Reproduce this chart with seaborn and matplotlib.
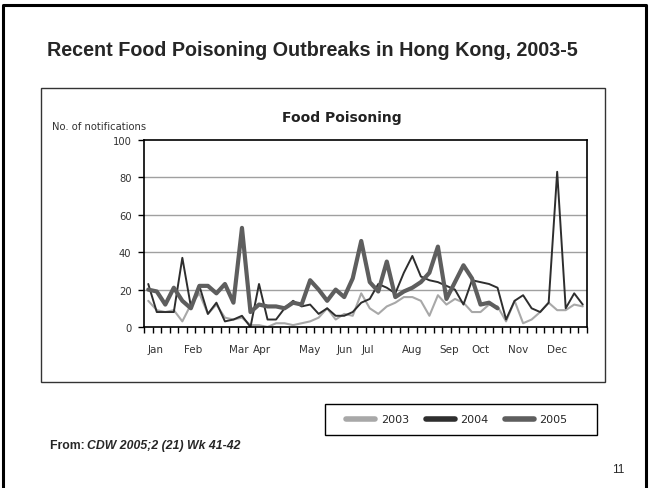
import matplotlib
matplotlib.use('Agg')
import matplotlib.pyplot as plt
from matplotlib.lines import Line2D
from matplotlib.patches import Rectangle
import pandas as pd
import seaborn as sns

# weekly notifications
weeks = list(range(1, 53))
cases_2003 = [14, 9, 8, 9, 3, 12, 18, 7, 12, 5, 4, 5, 1, 1, 0, 2, 2, 1, 2, 3,
              5, 10, 4, 7, 6, 18, 10, 7, 11, 13, 16, 16, 14, 6, 17, 12, 15, 13, 8, 8,
              12, 11, 3, 14, 2, 4, 8, 13, 9, 9, 12, 11]
cases_2004 = [23, 8, 8, 8, 37, 11, 22, 7, 13, 3, 4, 6, 0, 23, 4, 4, 10, 14, 11, 12,
              7, 10, 6, 6, 8, 13, 15, 23, 21, 18, 29, 38, 27, 25, 24, 22, 20, 12, 25, 24,
              23, 21, 4, 14, 17, 10, 8, 13, 83, 10, 18, 12]
cases_2005 = [20, 19, 12, 21, 14, 10, 22, 22, 18, 23, 13, 53, 8, 12, 11, 11, 10, 13, 12, 25,
              20, 14, 20, 16, 26, 46, 24, 19, 35, 16, 19, 21, 24, 29, 43, 15, 24, 33, 26, 12,
              13, 10]
years = ['2003', '2004', '2005']
month_labels = ['Jan', 'Feb', 'Mar', 'Apr', 'May', 'Jun', 'Jul', 'Aug', 'Sep', 'Oct', 'Nov', 'Dec']
month_weeks = [1.8, 6.3, 11.6, 14.4, 20, 24, 26.8, 32, 36.3, 40, 44.4, 49]
y_ticks = [0, 20, 40, 60, 80, 100]

frames = []
for yr, vals in zip(years, [cases_2003, cases_2004, cases_2005]):
    frames.append(pd.DataFrame({'week': weeks[:len(vals)], 'count': vals, 'year': yr}))
df = pd.concat(frames, ignore_index=True)

colors = {'2003': '#a8a8a8', '2004': '#2e2e2e', '2005': '#5e5e5e'}
widths = {'2003': 1.5, '2004': 1.4, '2005': 3.0}

sns.set_style('white')
plt.rcParams['font.family'] = ['DejaVu Sans']

W, H = 649, 489
fig = plt.figure(figsize=(W / 100, H / 100), dpi=100)


def fbox(x0, y0, x1, y1, lw=1.0, ec='black'):
    fig.add_artist(Rectangle((x0 / W, 1 - y1 / H), (x1 - x0) / W, (y1 - y0) / H,
                             transform=fig.transFigure, fill=False, ec=ec, lw=lw))


def fline(xs, ys, lw=1.0):
    fig.add_artist(Line2D([x / W for x in xs], [1 - y / H for y in ys],
                          transform=fig.transFigure, color='black', lw=lw))


# slide frame
fline([3, 3, 646, 646], [489, 6, 6, 489], lw=2.2)

fig.text(47 / W, 1 - 50 / H, 'Recent Food Poisoning Outbreaks in Hong Kong, 2003-5',
         family='Liberation Sans', fontweight='bold', fontsize=14.2, va='center', ha='left')

# chart area box
fbox(41, 89, 605, 383, lw=1.0, ec='#333333')

ax = fig.add_axes([144 / W, 1 - 328 / H, 443 / W, 187 / H])
sns.lineplot(data=df, x='week', y='count', hue='year', size='year',
             palette=colors, sizes=widths, legend=False, ax=ax)
ax.set_xlim(0.5, 52.5)
ax.set_ylim(0, 100)
ax.set_xlabel('')
ax.set_ylabel('')
for v in y_ticks[1:-1]:
    ax.axhline(v, color='#a0a0a0', lw=1.0, zorder=0)
for s in ax.spines.values():
    s.set_visible(True)
    s.set_color('black')
    s.set_linewidth(1.2)

ax.set_yticks(y_ticks)
ax.set_yticklabels([str(v) for v in y_ticks], fontsize=7.2, color='#333333')
ax.set_xticks([w + 0.5 for w in range(0, 53)])
ax.set_xticklabels([])
ax.set_xticks(month_weeks, minor=True)
ax.set_xticklabels(month_labels, minor=True, fontsize=7.5, color='#333333')
ax.tick_params(axis='both', which='major', direction='out', length=4, width=1,
               color='black', left=True, bottom=True)
ax.tick_params(axis='y', pad=5)
ax.tick_params(axis='x', which='minor', length=0, pad=12)

fig.text(52 / W, 1 - 127 / H, 'No. of notifications', fontsize=7.2, color='#333333',
         va='center', ha='left')
fig.text(342 / W, 1 - 118 / H, 'Food Poisoning', fontsize=10, fontweight='bold',
         color='#222222', va='center', ha='center')

# legend box
fbox(325, 405, 597, 436, lw=1.0)
handles = [Line2D([], [], color=colors[y], lw=4.0) for y in years]
fig.legend(handles, years, loc='center', bbox_to_anchor=(457 / W, 1 - 420.5 / H),
           ncol=3, frameon=False, fontsize=8, handlelength=2.6, handletextpad=0.5,
           columnspacing=1.5)

fig.text(50 / W, 1 - 446 / H, 'From: ', family='Liberation Sans', fontweight='bold',
         fontsize=8.8, va='center', ha='left')
fig.text(87 / W, 1 - 446 / H, 'CDW 2005;2 (21) Wk 41-42', family='Liberation Sans',
         fontweight='bold', style='italic', fontsize=8.8, va='center', ha='left')
fig.text(618 / W, 1 - 470 / H, '11', family='Liberation Sans', fontsize=8.5,
         va='center', ha='center')

fig.savefig('out.png', dpi=100)
